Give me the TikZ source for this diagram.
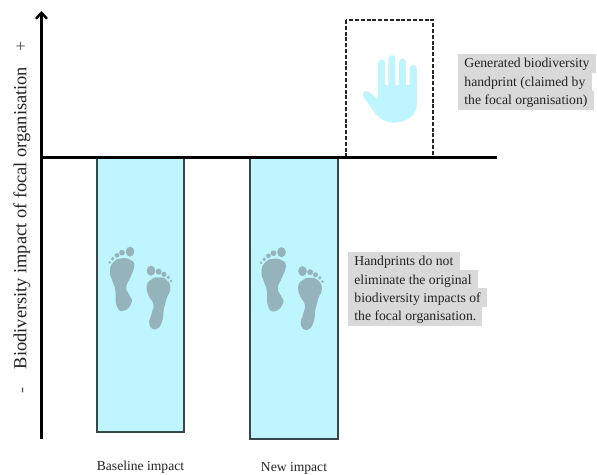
\documentclass[tikz,border=0pt]{standalone}
\usepackage{fontspec}
\setmainfont{Liberation Serif}
\usetikzlibrary{arrows.meta}
\definecolor{barblue}{HTML}{BFF5FF}
\definecolor{footgrey}{HTML}{94B3BA}
\definecolor{notegrey}{HTML}{D9D9D9}
\definecolor{barline}{HTML}{37474A}
\definecolor{inkcol}{HTML}{222222}
\tikzset{
  axisline/.style={line width=3pt,black},
  impactbar/.style={draw=barline,fill=barblue,line width=1.8pt},
  claimbox/.style={draw=black!85,line width=1.4pt,dash pattern=on 4pt off 1.8pt},
  noteline/.style={anchor=base west,fill=notegrey,font=\fontsize{13.7}{16}\selectfont,text=inkcol,inner xsep=6.2pt,inner ysep=0pt,text height=14pt,text depth=5pt},
  barlabel/.style={anchor=base,font=\fontsize{13.6}{16}\selectfont,text=inkcol,inner sep=0pt},
  axislabel/.style={rotate=90,font=\fontsize{18.4}{22}\selectfont,text=inkcol,inner sep=0pt},
  signlabel/.style={rotate=90,font=\fontsize{18}{20}\selectfont,text=inkcol!80,inner sep=0pt},
  feetpair/.pic={
    \begin{scope}[x=0.3333pt,y=-0.3333pt,fill=footgrey]
      \fill plot[smooth cycle,tension=0.9] coordinates {(95,85) (122,90) (133,108) (122,140) (109,172) (118,195) (125,217) (102,242) (80,228) (76,180) (68,155) (60,125) (70,97)};
      \fill (120,65) ellipse [x radius=13,y radius=15];
      \fill (96,68) circle [radius=8.5];
      \fill (81,76) circle [radius=7];
      \fill (68,86) circle [radius=5.5];
      \fill (59,97) circle [radius=4.2];
      \fill plot[smooth cycle,tension=0.9] coordinates {(205,142) (230,150) (241,175) (230,205) (222,235) (216,275) (198,298) (178,282) (186,248) (190,222) (176,197) (170,170) (182,150)};
      \fill (183,122) ellipse [x radius=13,y radius=15];
      \fill (206,125) circle [radius=9];
      \fill (222,133) circle [radius=7.5];
      \fill (235,142) circle [radius=5.5];
      \fill (243,153) circle [radius=4.2];
    \end{scope}
  }
}
\begin{document}
\begin{tikzpicture}[x=1pt,y=-1pt]
\useasboundingbox (0,0) rectangle (597,474);
\coordinate (axisbottom) at (41.5,439);
\coordinate (axistop) at (41.5,11);
\coordinate (baseleft) at (40,157);
\coordinate (baseright) at (497,157);
% bars
\draw[impactbar] (97,158) rectangle (184,432);
\draw[impactbar] (250,158) rectangle (338,439);
\pic at (90,230) {feetpair};
\pic at (241.5,230.5) {feetpair};
% claimed handprint box
\draw[claimbox] (346,20) rectangle (433,157);
\begin{scope}[shift={(330,0)},x=0.3333pt,y=-0.3333pt]
  \fill[barblue] (144,255) -- (144,189) arc[start angle=180,end angle=360,radius=10.5] -- (165,255) -- (175,255) -- (175,176) arc[start angle=180,end angle=360,radius=10.5] -- (196,255) -- (207,255) -- (207,186) arc[start angle=180,end angle=360,radius=10.5] -- (228,255) -- (239,255) -- (239,206) arc[start angle=180,end angle=360,radius=11] -- (261,310)
    .. controls (261,345) and (232,368) .. (190,368)
    .. controls (165,368) and (148,355) .. (136,340)
    -- (101,292) .. controls (94,282) and (104,268) .. (116,275)
    -- (144,298) -- cycle;
\end{scope}
% axes
\draw[axisline,-{Straight Barb[length=6pt,width=11pt,line width=2.4pt]}] (axisbottom) -- (axistop);
\draw[axisline] (baseleft) -- (baseright);
% axis labels
\node[axislabel] (ylab) at (22,218) {Biodiversity impact of focal organisation};
\node[signlabel] (plus) at (21.5,46) {+};
\node[signlabel] (minus) at (24.5,390) {-};
% bar labels
\node[barlabel] (l1) at (140.5,470) {Baseline impact};
\node[barlabel] (l2) at (294,471) {New impact};
% notes
\node[noteline] (a1) at (458,67.7) {Generated biodiversity};
\node[noteline] (a2) at (458,86.2) {handprint (claimed by};
\node[noteline] (a3) at (458,104.7) {the focal organisation)};
\node[noteline] (b1) at (348,265.7) {Handprints do not};
\node[noteline] (b2) at (348,284) {eliminate the original};
\node[noteline] (b3) at (348,302.3) {biodiversity impacts of};
\node[noteline] (b4) at (348,320.7) {the focal organisation.};
\end{tikzpicture}
\end{document}
